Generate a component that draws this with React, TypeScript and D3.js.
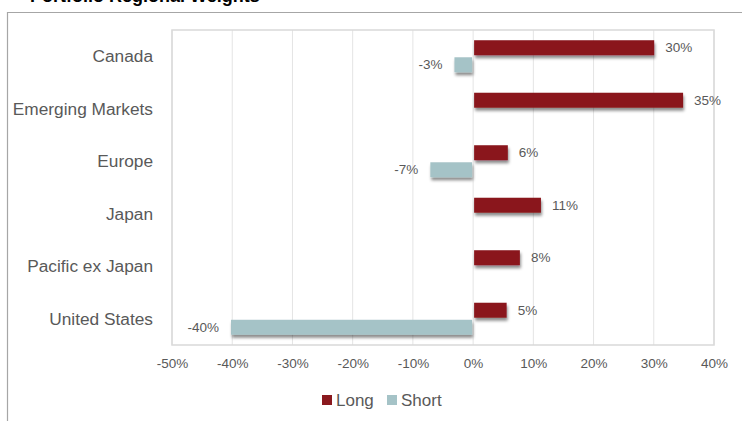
import React, { useEffect, useRef } from "react";
import * as d3 from "d3";

const regions = ["Canada", "Emerging Markets", "Europe", "Japan", "Pacific ex Japan", "United States"];
const longWeights = [0.299, 0.347, 0.056, 0.111, 0.076, 0.054];
const shortWeights = [-0.031, 0, -0.071, 0, 0, -0.402];
const xTicks = [-0.5, -0.4, -0.3, -0.2, -0.1, 0, 0.1, 0.2, 0.3, 0.4];
const legendItems = ["Long", "Short"];

const LONG_COLOR = "#8a191e";
const SHORT_COLOR = "#a5c3c7";
const TEXT_COLOR = "#595959";

const App: React.FC = () => {
  const svgRef = useRef<SVGSVGElement>(null);
  const width = 742;
  const height = 421;

  useEffect(() => {
    if (!svgRef.current) return;
    const margin = { top: 30, right: 28, bottom: 76, left: 172 };

    const svg = d3.select(svgRef.current).html("");
    svg.attr("viewBox", `0 0 ${width} ${height}`);

    // drop shadow like the office chart
    const defs = svg.append("defs");
    defs
      .append("filter")
      .attr("id", "barShadow")
      .attr("x", "-20%")
      .attr("y", "-40%")
      .attr("width", "140%")
      .attr("height", "200%")
      .append("feDropShadow")
      .attr("dx", 1)
      .attr("dy", 3)
      .attr("stdDeviation", 1.6)
      .attr("flood-color", "#000")
      .attr("flood-opacity", 0.45);

    svg.append("rect").attr("width", width).attr("height", height).attr("fill", "#fff");

    // title (mostly cut off above the frame, as in the source screenshot)
    svg
      .append("text")
      .attr("x", 30)
      .attr("y", 1.5)
      .attr("font-family", "Liberation Sans, Arial, sans-serif")
      .attr("font-size", 18)
      .attr("font-weight", "bold")
      .attr("fill", "#000")
      .text("Portfolio Regional Weights");

    // outer frame
    svg
      .append("path")
      .attr("d", `M7.5,${height} V12.5 H${width}`)
      .attr("fill", "none")
      .attr("stroke", "#a6a6a6")
      .attr("stroke-width", 1.2);

    const innerW = width - margin.left - margin.right;
    const innerH = height - margin.top - margin.bottom;

    const x = d3.scaleLinear().domain([-0.5, 0.4]).range([margin.left, margin.left + innerW]);
    const y = d3
      .scaleBand<string>()
      .domain(regions)
      .range([margin.top, margin.top + innerH])
      .paddingInner(0)
      .paddingOuter(0);
    const sub = d3
      .scaleBand<string>()
      .domain(["long", "short"])
      .range([0, y.bandwidth()])
      .paddingInner(0.12)
      .paddingOuter(0.6);

    // grid
    svg
      .append("g")
      .selectAll("line")
      .data(xTicks)
      .join("line")
      .attr("x1", (d) => x(d))
      .attr("x2", (d) => x(d))
      .attr("y1", margin.top)
      .attr("y2", margin.top + innerH)
      .attr("stroke", "#e4e4e4")
      .attr("stroke-width", 1);

    svg
      .append("rect")
      .attr("x", margin.left)
      .attr("y", margin.top)
      .attr("width", innerW)
      .attr("height", innerH)
      .attr("fill", "none")
      .attr("stroke", "#d9d9d9")
      .attr("stroke-width", 1.5);

    // plain hyphen for negatives, like Excel
    const fmt = (v: number) => `${Math.round(v * 100)}%`;
    const font = "Liberation Sans, Arial, sans-serif";

    // x axis labels
    const xAxis = svg
      .append("g")
      .attr("transform", `translate(0,${margin.top + innerH + 8})`)
      .call(d3.axisBottom(x).tickValues(xTicks).tickFormat((d) => fmt(d as number)).tickSize(0));
    xAxis.select(".domain").remove();
    xAxis
      .selectAll("text")
      .attr("font-family", font)
      .attr("font-size", 13.5)
      .attr("fill", TEXT_COLOR)
      .attr("dy", "0.9em");

    // category labels
    svg
      .append("g")
      .selectAll("text")
      .data(regions)
      .join("text")
      .attr("x", margin.left - 19)
      .attr("y", (d) => (y(d) ?? 0) + y.bandwidth() / 2)
      .attr("dy", "0.35em")
      .attr("text-anchor", "end")
      .attr("font-family", font)
      .attr("font-size", 17.3)
      .attr("fill", TEXT_COLOR)
      .text((d) => d);

    const bars = svg.append("g").attr("filter", "url(#barShadow)");
    const zero = x(0);

    regions.forEach((r, i) => {
      const lv = longWeights[i];
      const sv = shortWeights[i];
      const by = y(r) ?? 0;
      if (lv !== 0) {
        bars
          .append("rect")
          .attr("x", zero + 1)
          .attr("y", by + (sub("long") ?? 0))
          .attr("width", x(lv) - zero)
          .attr("height", sub.bandwidth())
          .attr("fill", LONG_COLOR);
        svg
          .append("text")
          .attr("x", x(lv) + 12)
          .attr("y", by + (sub("long") ?? 0) + sub.bandwidth() / 2)
          .attr("dy", "0.35em")
          .attr("font-family", font)
          .attr("font-size", 13.5)
          .attr("fill", TEXT_COLOR)
          .text(fmt(lv));
      }
      if (sv !== 0) {
        bars
          .append("rect")
          .attr("x", x(sv))
          .attr("y", by + (sub("short") ?? 0))
          .attr("width", zero - x(sv) - 1)
          .attr("height", sub.bandwidth())
          .attr("fill", SHORT_COLOR);
        svg
          .append("text")
          .attr("x", x(sv) - 12)
          .attr("y", by + (sub("short") ?? 0) + sub.bandwidth() / 2)
          .attr("dy", "0.35em")
          .attr("text-anchor", "end")
          .attr("font-family", font)
          .attr("font-size", 13.5)
          .attr("fill", TEXT_COLOR)
          .text(fmt(sv));
      }
    });

    // legend
    const legend = svg.append("g").attr("transform", `translate(322,${height - 21})`);
    const colors = [LONG_COLOR, SHORT_COLOR];
    const offsets = [0, 65];
    legendItems.forEach((name, i) => {
      const g = legend.append("g").attr("transform", `translate(${offsets[i]},0)`);
      g.append("rect").attr("x", 0).attr("y", -5).attr("width", 10).attr("height", 10).attr("fill", colors[i]);
      g.append("text")
        .attr("x", 14)
        .attr("y", 0)
        .attr("dy", "0.35em")
        .attr("font-family", font)
        .attr("font-size", 17)
        .attr("fill", TEXT_COLOR)
        .text(name);
    });
  }, []);

  return (
    <div style={{ position: "absolute", left: 0, top: 0 }}>
      <svg ref={svgRef} width={width} height={height} style={{ display: "block" }} />
    </div>
  );
};

export default App;
